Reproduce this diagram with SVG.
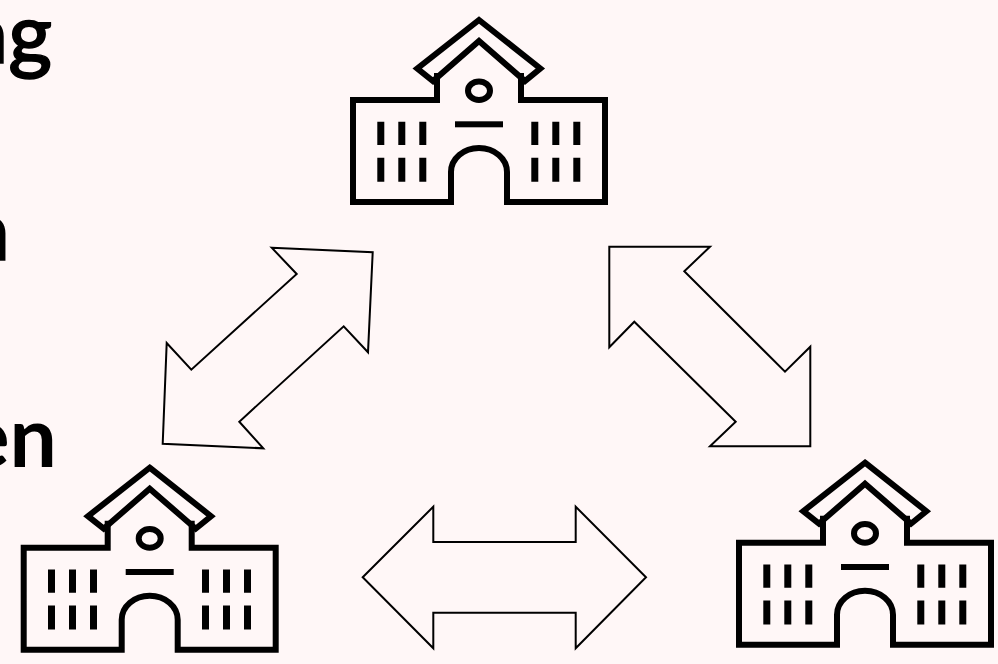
<svg xmlns="http://www.w3.org/2000/svg" xmlns:xlink="http://www.w3.org/1999/xlink" width="998" height="664" viewBox="0 0 998 664">
<style>
.s{fill:none;stroke:#000;stroke-width:6;stroke-miterlimit:10}
.w{fill:#000}
.a{fill:none;stroke:#000;stroke-width:2;stroke-miterlimit:10}
.t{font-family:Lato,"Noto Sans",sans-serif;font-size:84px;fill:#000}
.m{font-weight:500;stroke:#000;stroke-width:1.500}
</style>
<defs>
<g id="school">
<polygon class="s" points="479,20 540.300,68.500 525,81 479,41 433,81 417.300,68.500"/>
<path class="s" d="M437,73V100H353V202H451V172A28,24 0 0 1 507,172V202H605V100H521V73"/>
<ellipse class="s" cx="479" cy="90.700" rx="11" ry="9.300"/>
<rect class="w" x="455" y="121.300" width="48" height="6"/>
<path class="w" d="M377.300,121.700h7v23.300h-7zM398.300,121.700h7v23.300h-7zM419.300,121.700h7v23.300h-7zM377.300,157.700h7v24h-7zM398.300,157.700h7v24h-7zM419.300,157.700h7v24h-7zM531.300,121.700h7v23.300h-7zM552.300,121.700h7v23.300h-7zM573.300,121.700h7v23.300h-7zM531.300,157.700h7v24h-7zM552.300,157.700h7v24h-7zM573.300,157.700h7v24h-7z"/>
</g>
</defs>
<rect width="998" height="664" fill="#fff7f7"/>
<g id="labels">
<text class="t m" x="52" y="63" text-anchor="end">ng</text>
<text class="t m" x="10" y="260" text-anchor="end">n</text>
<text class="t" x="57" y="467" text-anchor="end" font-weight="700">en</text>
</g>
<g id="school-top"><use xlink:href="#school" href="#school"/></g>
<g id="school-left"><use xlink:href="#school" href="#school" transform="translate(-329.3,447.7)"/></g>
<g id="school-right"><use xlink:href="#school" href="#school" transform="translate(386,442.7)"/></g>
<g id="connectors">
<polygon class="a" points="271.700,247.700 372.700,252.300 368,352.300 343.700,326.300 239.300,421.700 263.300,448.300 162.700,443.700 166.700,343 191.300,369.700 296.700,274"/>
<polygon class="a" points="609.300,246.700 710,246.700 684.300,271.300 785,371.700 810.300,346.700 810.300,446.300 710,446.300 735.700,421.700 634.300,321.700 609.300,347.300"/>
<polygon class="a" points="362.700,577.300 433.300,506.700 433.300,542 575.700,542 575.700,506.700 646,577.300 575.700,648.300 575.700,612.700 433.300,612.700 433.300,648.300"/>
</g>
</svg>
